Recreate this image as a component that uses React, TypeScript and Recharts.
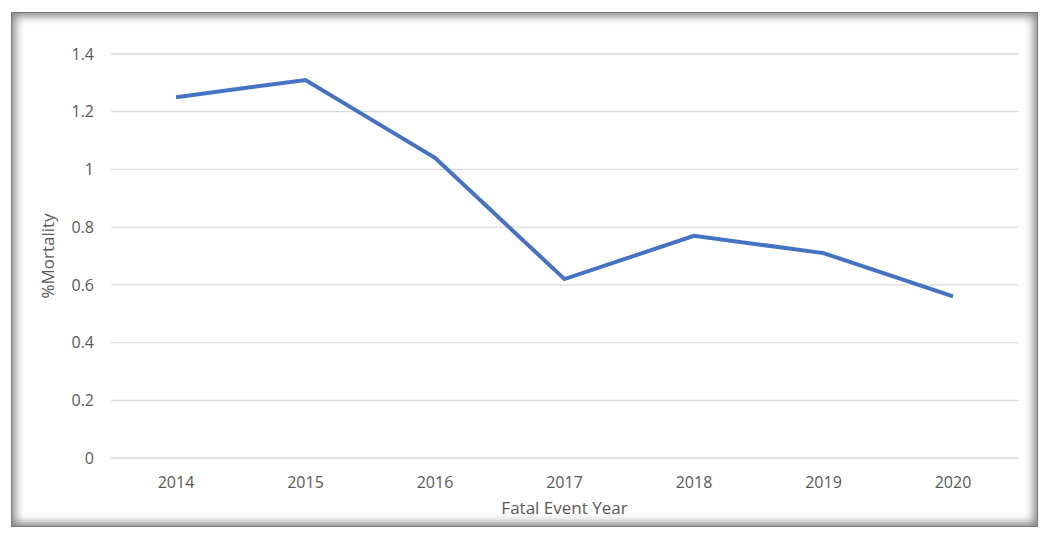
import React from 'react';
import { LineChart, Line, XAxis, YAxis, CartesianGrid, Label } from 'recharts';

const years = ['2014', '2015', '2016', '2017', '2018', '2019', '2020'];
const mortality = [1.25, 1.31, 1.04, 0.62, 0.77, 0.71, 0.56];
const yTicks = [0, 0.2, 0.4, 0.6, 0.8, 1, 1.2, 1.4];

const data = years.map((y, i) => ({ year: y, value: mortality[i] }));

const FONT = '"Open Sans", "Liberation Sans", sans-serif';

export default function App() {
  return (
    <div style={{ position: 'relative', width: 1050, height: 539, margin: -8, background: '#fff' }}>
      <div
        style={{
          position: 'absolute',
          left: 11,
          top: 12,
          width: 1027,
          height: 515,
          boxSizing: 'border-box',
          border: '1px solid #7a7a7a',
          boxShadow: 'inset 0 0 10px 3px rgba(0,0,0,0.5)',
          background: '#fff',
        }}
      />
      <div style={{ position: 'absolute', left: 0, top: 0 }}>
        <LineChart
          width={1050}
          height={539}
          data={data}
          margin={{ top: 54, right: 32, bottom: 0, left: 0 }}
        >
          <CartesianGrid vertical={false} stroke="#d9d9d9" strokeWidth={1.3} />
          <XAxis
            dataKey="year"
            axisLine={false}
            tickLine={false}
            tick={{ fill: '#595959', fontSize: 16, fontFamily: FONT }}
            tickMargin={13}
            height={81}
            padding={{ left: 65, right: 65 }}
          >
            <Label
              value="Fatal Event Year"
              position="insideTop"
              offset={44}
              style={{ fill: '#595959', fontSize: 17, fontFamily: FONT }}
            />
          </XAxis>
          <YAxis
            domain={[0, 1.4]}
            ticks={yTicks}
            axisLine={false}
            tickLine={false}
            width={111}
            interval={0}
            tick={{ fill: '#595959', fontSize: 16, fontFamily: FONT }}
            tickMargin={11}
          >
            <Label
              value="%Mortality"
              angle={-90}
              position="insideLeft"
              offset={48}
              style={{ fill: '#595959', fontSize: 17, fontFamily: FONT, textAnchor: 'middle' }}
            />
          </YAxis>
          <Line
            type="linear"
            dataKey="value"
            stroke="#4472C4"
            strokeWidth={4}
            dot={false}
            isAnimationActive={false}
          />
        </LineChart>
      </div>
    </div>
  );
}
